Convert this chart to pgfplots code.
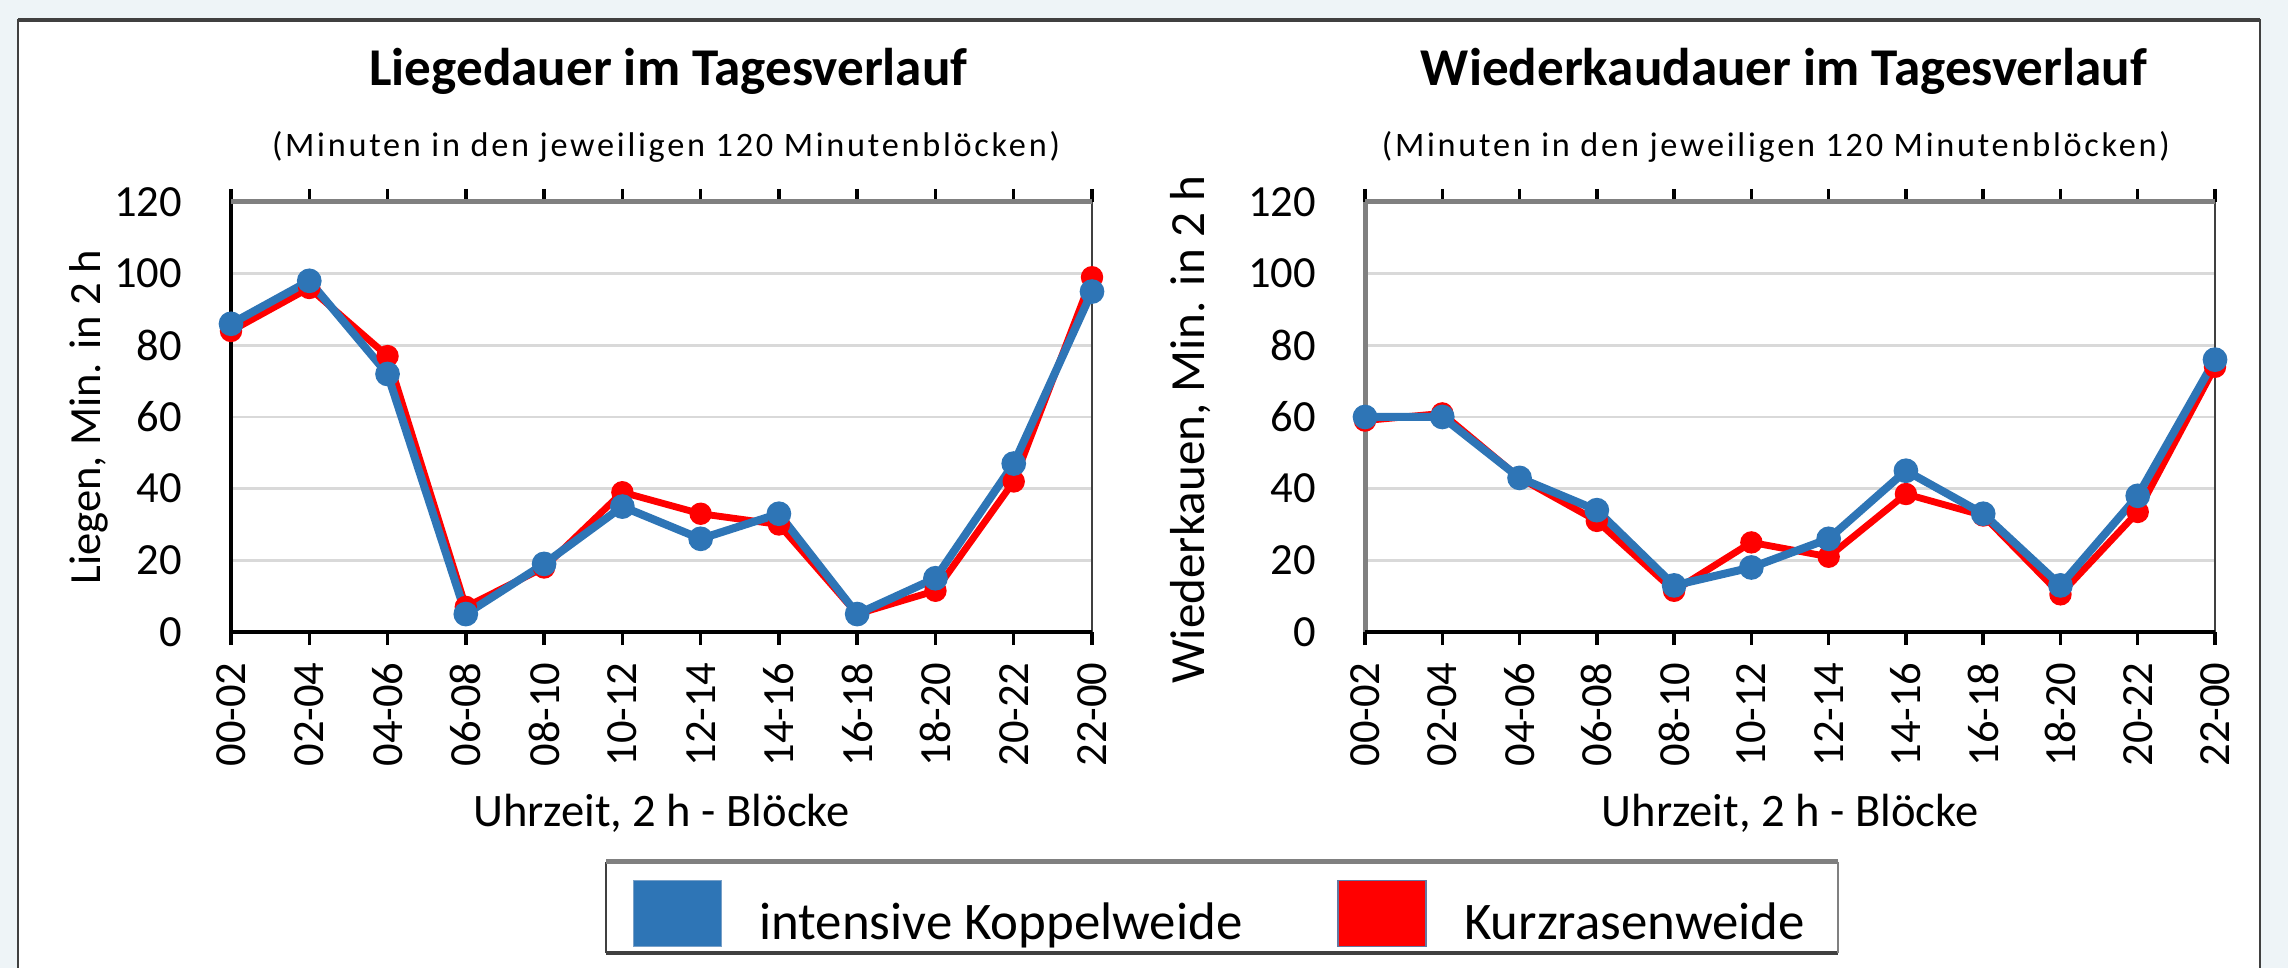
\documentclass[border=0pt]{standalone}
\usepackage{pgfplots}
\usepackage{pgfplotstable}
\pgfplotsset{compat=1.18}
\usepackage{fontspec}
\setmainfont{Carlito}
\definecolor{kblue}{RGB}{46,117,182}
\definecolor{kred}{RGB}{255,0,0}
\definecolor{bgc}{RGB}{238,244,247}
\definecolor{gridc}{RGB}{217,217,217}
\definecolor{topc}{RGB}{128,128,128}
\definecolor{darkc}{RGB}{64,64,64}
\definecolor{bpatch}{RGB}{120,160,200}
\definecolor{rpatch}{RGB}{100,120,160}

\pgfplotstableread{
x blue red
0 86 84
1 98 96
2 72 77
3 5 7
4 19 18
5 35 39
6 26 33
7 33 30
8 5 5
9 15 11.5
10 47 42
11 95 99
}\liegen

\pgfplotstableread{
x blue red
0 60 59
1 60 61
2 43 43
3 34 31
4 13 11.5
5 18 25
6 26 21
7 45 38.5
8 33 32.5
9 13 10.5
10 38 33.5
11 76 74
}\kauen

\pgfplotsset{
  chart/.style={
    scale only axis,
    height=150.5pt,
    xmin=0, xmax=11, ymin=0, ymax=120,
    xtick={0,...,11},
    xticklabels={00-02,02-04,04-06,06-08,08-10,10-12,12-14,14-16,16-18,18-20,20-22,22-00},
    ytick={0,20,...,120},
    ymajorgrids,
    major grid style={gridc, line width=1pt},
    axis line style={draw=none},
    ytick style={draw=none},
    xtick style={black, line width=1.2pt},
    tick align=outside,
    major tick length=4.6pt,
    xticklabel style={rotate=90, anchor=east, inner sep=0pt, font=\fontsize{15.6}{18}\selectfont},
    yticklabel style={anchor=east, inner sep=0pt, font=\fontsize{15.6}{18}\selectfont},
    xticklabel shift=5.9pt,
    yticklabel shift=12.4pt,
    /pgf/number format/assume math mode=true,
    clip=false,
    title style={anchor=base, font=\fontsize{18.6}{22}\selectfont\bfseries},
    xlabel style={at={(axis description cs:0.5,-0.4512)}, anchor=base, font=\fontsize{16.3}{19}\selectfont},
    ylabel style={anchor=base, rotate=0},
    xlabel={Uhrzeit, 2 h - Blöcke},
  },
  redline/.style={kred, line width=2.4pt, mark=*, mark size=2.7pt, mark options={solid, fill=kred}},
  blueline/.style={kblue, line width=2.8pt, mark=*, mark size=2.9pt, mark options={solid, fill=kblue}},
}

\begin{document}
\begin{tikzpicture}
\useasboundingbox (0,0) rectangle (800.8pt,338.8pt);
\fill[bgc] (0,0) rectangle (800.8pt,338.8pt);
\begin{scope}
\clip (0,0) rectangle (800.8pt,338.8pt);
\fill[white] (6.3pt,-5pt) rectangle (791pt,331.8pt);
\draw[darkc, line width=1pt] (6.3pt,-5pt) -- (6.3pt,331.8pt) -- (791pt,331.8pt) -- (791pt,-5pt);
\draw[darkc, line width=1.4pt] (6.3pt,331.8pt) -- (791pt,331.8pt);
\end{scope}

% legend frame
\fill[white] (212.1pt,5.25pt) rectangle (643.3pt,37.1pt);
\draw[darkc, line width=1pt] (212.1pt,37.1pt) -- (212.1pt,5.25pt);
\draw[darkc, line width=1.4pt] (212.1pt,5.25pt) -- (643.3pt,5.25pt);
\draw[topc, line width=1.75pt] (212.1pt,37.1pt) -- (643.3pt,37.1pt);
\draw[topc, line width=1pt] (643.3pt,37.1pt) -- (643.3pt,5.25pt);

\begin{axis}[chart,
  at={(80.85pt,117.6pt)}, anchor=south west, width=301.35pt,
  title={Liegedauer im Tagesverlauf},
  title style={at={(axis description cs:0.5081,1.2302)}},
  ylabel={Liegen, Min. in 2 h},
  ylabel style={at={(axis description cs:-0.151,0.5)}, font=\fontsize{15.6}{18}\selectfont},
  legend columns=2,
  legend cell align=left,
  legend style={at={(axis description cs:0.4657,-0.5744)}, anchor=north west,
    draw=none, fill=none, inner sep=0pt,
    nodes={inner sep=0pt, font=\fontsize{18.5}{22}\selectfont},
    /tikz/every odd column/.append style={column sep=12.95pt},
    /tikz/every even column/.append style={column sep=33.25pt}},
]
\draw[black, line width=1.5pt] (rel axis cs:0,0) -- (rel axis cs:0,1);
\draw[darkc, line width=0.8pt] (rel axis cs:1,0) -- (rel axis cs:1,1);
\draw[topc, line width=1.75pt] (rel axis cs:0,1) -- (rel axis cs:1,1);
\draw[black, line width=1.6pt] (rel axis cs:0,0) -- (rel axis cs:1,0);
\node[anchor=base, font=\fontsize{12}{14}\selectfont\addfontfeature{LetterSpace=8}] at (axis description cs:0.5053,1.1047) {(Minuten in den jeweiligen 120 Minutenblöcken)};
\addlegendimage{legend image code/.code={\filldraw[fill=kblue, draw=bpatch, line width=0.6pt] (0pt,-8.05pt) rectangle (30.8pt,15.05pt);}}
\addlegendentry{intensive Koppelweide}
\addlegendimage{legend image code/.code={\filldraw[fill=kred, draw=rpatch, line width=0.6pt] (0pt,-8.05pt) rectangle (30.8pt,15.05pt);}}
\addlegendentry{Kurzrasenweide}
\addplot[redline, forget plot] table[x=x, y=red] {\liegen};
\addplot[blueline, forget plot] table[x=x, y=blue] {\liegen};
\end{axis}

\begin{axis}[chart,
  at={(477.75pt,117.6pt)}, anchor=south west, width=297.5pt,
  title={Wiederkaudauer im Tagesverlauf},
  title style={at={(axis description cs:0.4929,1.2302)}},
  ylabel={Wiederkauen, Min. in 2 h},
  ylabel style={at={(axis description cs:-0.1894,0.47)}, font=\fontsize{17.2}{20}\selectfont},
]
\draw[topc, line width=1.75pt] (rel axis cs:0,0) -- (rel axis cs:0,1);
\draw[darkc, line width=0.8pt] (rel axis cs:1,0) -- (rel axis cs:1,1);
\draw[topc, line width=1.75pt] (rel axis cs:0,1) -- (rel axis cs:1,1);
\draw[black, line width=1.6pt] (rel axis cs:0,0) -- (rel axis cs:1,0);
\node[anchor=base, font=\fontsize{12}{14}\selectfont\addfontfeature{LetterSpace=8}] at (axis description cs:0.4835,1.1047) {(Minuten in den jeweiligen 120 Minutenblöcken)};
\addplot[redline] table[x=x, y=red] {\kauen};
\addplot[blueline] table[x=x, y=blue] {\kauen};
\end{axis}
\end{tikzpicture}
\end{document}
